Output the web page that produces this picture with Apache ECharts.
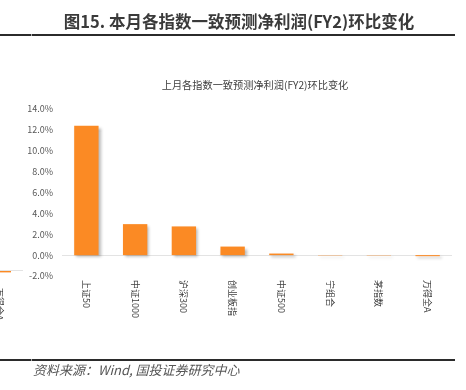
<!DOCTYPE html>
<html>
<head>
<meta charset="utf-8">
<script src="https://cdn.jsdelivr.net/npm/echarts@6/dist/echarts.min.js"></script>
<style>
  html, body { margin: 0; padding: 0; background: #fff; }
  #chart { width: 466px; height: 390px; }
</style>
</head>
<body>
<div id="chart"></div>
<script>
  const categories = ["上证50", "中证1000", "沪深300", "创业板指", "中证500", "宁组合", "茅指数", "万得全A"];
  const changeValues = [12.4, 2.97, 2.75, 0.82, 0.15, -0.03, -0.03, -0.1];
  const yTicks = { min: -2, max: 14, interval: 2 };
  // 左侧被裁掉的上一张图残留
  const prevCategories = ["万得全A"];
  const prevValues = [-0.3];

  const font = "'Microsoft YaHei', 'Noto Sans CJK SC', sans-serif";
  const barColor = "#FB8A24";

  const chart = echarts.init(document.getElementById("chart"));
  chart.setOption({
    animation: false,
    textStyle: { fontFamily: font },
    title: [
      {
        text: "图15. 本月各指数一致预测净利润(FY2)环比变化",
        left: 239,
        top: 13,
        padding: 0,
        textAlign: "center",
        textStyle: { fontSize: 16.5, fontWeight: "bold", color: "#3a3a3a", fontFamily: font },
      },
      {
        text: "上月各指数一致预测净利润(FY2)环比变化",
        left: 255,
        top: 80,
        padding: 0,
        textAlign: "center",
        textStyle: { fontSize: 10.2, fontWeight: "normal", color: "#404040", fontFamily: font },
      },
      {
        text: "资料来源：Wind, 国投证券研究中心",
        left: 33,
        top: 364,
        padding: 0,
        textStyle: { fontSize: 13, fontWeight: "normal", fontStyle: "italic", color: "#555", fontFamily: font },
      },
    ],
    graphic: [
      { type: "rect", shape: { x: 0, y: 34, width: 455, height: 2 }, style: { fill: "#2b2b2b" } },
      { type: "rect", shape: { x: 31, y: 34, width: 1, height: 2 }, style: { fill: "#aaa" } },
      { type: "rect", shape: { x: 0, y: 359, width: 455, height: 2 }, style: { fill: "#2b2b2b" } },
      { type: "rect", shape: { x: 31, y: 359, width: 1, height: 2 }, style: { fill: "#aaa" } },
    ],
    grid: [
      { left: 62, right: 14, top: 109, bottom: 114 },
      { left: -25, width: 48, top: 262, height: 16, outerBoundsMode: "none", containLabel: false },
    ],
    xAxis: [
      {
        gridIndex: 0,
        type: "category",
        data: categories,
        axisLine: { show: false },
        axisTick: { show: false },
        axisLabel: { rotate: -90, margin: 4, fontSize: 9, color: "#404040" },
      },
      {
        gridIndex: 1,
        type: "category",
        data: prevCategories,
        axisLine: { show: false },
        axisTick: { show: false },
        axisLabel: { rotate: -90, margin: 10, fontSize: 9, color: "#404040" },
      },
    ],
    yAxis: [
      {
        gridIndex: 0,
        type: "value",
        min: yTicks.min,
        max: yTicks.max,
        interval: yTicks.interval,
        axisLine: { show: false },
        axisTick: { show: false },
        splitLine: { show: false },
        axisLabel: {
          margin: 9,
          fontSize: 9,
          color: "#595959",
          formatter: (v) => v.toFixed(1) + "%",
        },
      },
      {
        gridIndex: 1,
        type: "value",
        min: -1,
        max: 1,
        show: false,
      },
    ],
    series: [
      {
        type: "bar",
        xAxisIndex: 0,
        yAxisIndex: 0,
        data: changeValues,
        barWidth: "50%",
        itemStyle: {
          color: barColor,
          shadowColor: "rgba(0,0,0,0.3)",
          shadowBlur: 3,
          shadowOffsetX: 2,
          shadowOffsetY: 2,
        },
        markLine: {
          silent: true,
          symbol: "none",
          label: { show: false },
          lineStyle: { color: "#e3e3e3", width: 1, type: "solid" },
          data: [{ yAxis: 0 }],
          z: 1,
        },
        z: 3,
      },
      {
        type: "bar",
        xAxisIndex: 1,
        yAxisIndex: 1,
        data: prevValues,
        barWidth: 24,
        itemStyle: { color: barColor },
        markLine: {
          silent: true,
          symbol: "none",
          label: { show: false },
          lineStyle: { color: "#e3e3e3", width: 1, type: "solid" },
          data: [{ yAxis: 0 }],
        },
      },
    ],
  });
</script>
</body>
</html>
